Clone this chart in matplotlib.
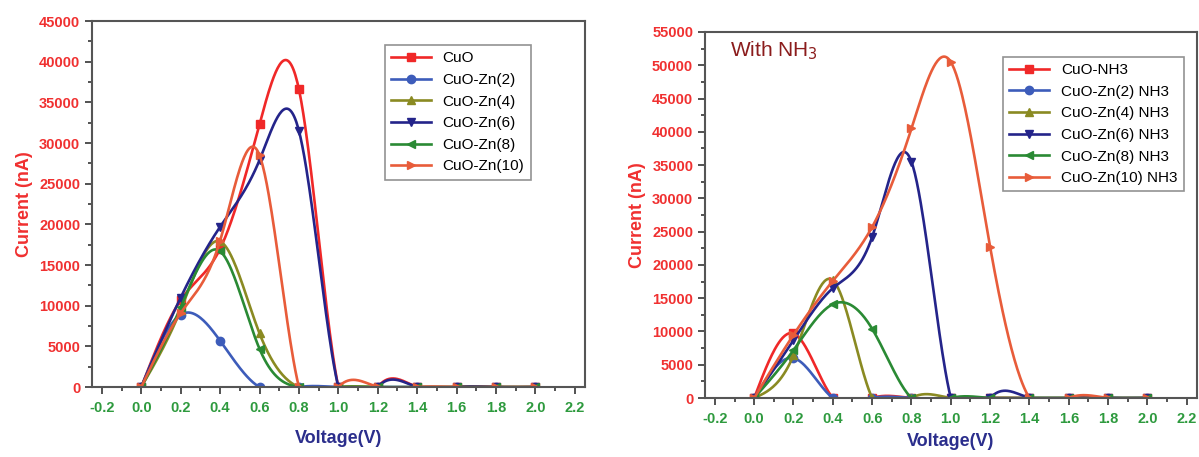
import numpy as np
import matplotlib
matplotlib.use("Agg")
import matplotlib.pyplot as plt
from matplotlib.ticker import MultipleLocator

plt.rcParams['font.family'] = ['Liberation Sans', 'DejaVu Sans']

voltage = [0.0, 0.2, 0.4, 0.6, 0.8, 1.0, 1.2, 1.4, 1.6, 1.8, 2.0]

# without NH3 (nA)
cuo = [0, 10700, 17000, 32300, 36600, 0, 0, 0, 0, 0, 0]
cuo_zn2 = [0, 8900, 5700, 0, 0, 0, 0, 0, 0, 0, 0]
cuo_zn4 = [0, 9500, 17900, 6600, 0, 0, 0, 0, 0, 0, 0]
cuo_zn6 = [0, 11000, 19700, 27900, 31500, 0, 0, 0, 0, 0, 0]
cuo_zn8 = [0, 9800, 16700, 4700, 0, 0, 0, 0, 0, 0, 0]
cuo_zn10 = [0, 9100, 18000, 28500, 0, 0, 0, 0, 0, 0, 0]

# with NH3 (nA)
cuo_nh3 = [0, 9700, 0, 0, 0, 0, 0, 0, 0, 0, 0]
cuo_zn2_nh3 = [0, 6000, 0, 0, 0, 0, 0, 0, 0, 0, 0]
cuo_zn4_nh3 = [0, 6400, 17700, 0, 0, 0, 0, 0, 0, 0, 0]
cuo_zn6_nh3 = [0, 8700, 16500, 24200, 35500, 0, 0, 0, 0, 0, 0]
cuo_zn8_nh3 = [0, 7200, 14100, 10400, 0, 0, 0, 0, 0, 0, 0]
cuo_zn10_nh3 = [0, 9500, 17600, 25700, 40500, 50500, 22700, 0, 0, 0, 0]

labels_left = ['CuO', 'CuO-Zn(2)', 'CuO-Zn(4)', 'CuO-Zn(6)', 'CuO-Zn(8)', 'CuO-Zn(10)']
labels_right = ['CuO-NH3', 'CuO-Zn(2) NH3', 'CuO-Zn(4) NH3', 'CuO-Zn(6) NH3',
                'CuO-Zn(8) NH3', 'CuO-Zn(10) NH3']

colors = ['#f02828', '#3d5cba', '#8a8a22', '#24248a', '#2a8a34', '#e85c3a']
markers = ['s', 'o', '^', 'v', '<', '>']


def spline(x, y, n=400):
    # natural cubic spline, like Origin's spline connector
    x = np.asarray(x, float)
    y = np.asarray(y, float)
    k = len(x)
    h = np.diff(x)
    A = np.zeros((k, k))
    b = np.zeros(k)
    A[0, 0] = 1
    A[-1, -1] = 1
    for i in range(1, k - 1):
        A[i, i - 1] = h[i - 1]
        A[i, i] = 2 * (h[i - 1] + h[i])
        A[i, i + 1] = h[i]
        b[i] = 6 * ((y[i + 1] - y[i]) / h[i] - (y[i] - y[i - 1]) / h[i - 1])
    M = np.linalg.solve(A, b)
    xs = np.linspace(x[0], x[-1], n)
    idx = np.clip(np.searchsorted(x, xs) - 1, 0, k - 2)
    x0, x1 = x[idx], x[idx + 1]
    hh = x1 - x0
    ys = (M[idx] * (x1 - xs) ** 3 / (6 * hh) + M[idx + 1] * (xs - x0) ** 3 / (6 * hh)
          + (y[idx] / hh - M[idx] * hh / 6) * (x1 - xs)
          + (y[idx + 1] / hh - M[idx + 1] * hh / 6) * (xs - x0))
    return xs, ys


def draw(ax, series, labels, ymax, xpad):
    for ys, lab, c, m in zip(series, labels, colors, markers):
        sx, sy = spline(voltage, ys)
        ax.plot(sx, sy, color=c, lw=1.9)
        ax.plot(voltage, ys, ls='none', marker=m, ms=6, color=c)
        ax.plot([], [], color=c, lw=1.9, marker=m, ms=6, label=lab)
    ax.set_xlim(-0.25, 2.25)
    ax.set_ylim(0, ymax)
    ax.xaxis.set_major_locator(MultipleLocator(0.2))
    ax.xaxis.set_minor_locator(MultipleLocator(0.1))
    ax.yaxis.set_major_locator(MultipleLocator(5000))
    ax.yaxis.set_minor_locator(MultipleLocator(2500))
    ax.tick_params(which='both', direction='out', color='#444444', width=1.3)
    ax.tick_params(which='major', length=5)
    ax.tick_params(which='minor', length=3)
    ax.tick_params(axis='x', labelcolor='#2e9a3e', labelsize=10.5, pad=5)
    ax.tick_params(axis='y', labelcolor='#f03030', labelsize=10.5)
    ax.set_xticks(np.round(np.arange(-0.2, 2.21, 0.2), 1))
    ax.set_xticklabels(['%.1f' % v for v in np.arange(-0.2, 2.21, 0.2)],
                       fontweight='bold')
    for t in ax.get_yticklabels():
        t.set_fontweight('bold')
    for s in ax.spines.values():
        s.set_color('#555555')
        s.set_linewidth(1.5)
    ax.set_xlabel('Voltage(V)', color='#2b2e8c', fontsize=13, fontweight='bold',
                  labelpad=xpad)
    ax.set_ylabel('Current (nA)', color='#f03030', fontsize=13, fontweight='bold')


fig = plt.figure(figsize=(11.99, 4.57), dpi=100)
ax1 = fig.add_axes([0.0767, 0.153, 0.411, 0.801])
ax2 = fig.add_axes([0.588, 0.129, 0.410, 0.801])

draw(ax1, [cuo, cuo_zn2, cuo_zn4, cuo_zn6, cuo_zn8, cuo_zn10], labels_left, 45000, 11)
draw(ax2, [cuo_nh3, cuo_zn2_nh3, cuo_zn4_nh3, cuo_zn6_nh3, cuo_zn8_nh3, cuo_zn10_nh3],
     labels_right, 55000, 5)

for ax, x0, y0 in [(ax1, 0.594, 0.934), (ax2, 0.606, 0.932)]:
    leg = ax.legend(loc='upper left', bbox_to_anchor=(x0, y0), fontsize=11,
                    fancybox=False, edgecolor='#777777', handlelength=2.6,
                    borderaxespad=0, labelspacing=0.5)
    leg.get_frame().set_linewidth(1.2)

ax2.text(0.051, 0.95, 'With NH$_3$', transform=ax2.transAxes, fontsize=15,
         color='#8b1c1c', va='center', ha='left')

fig.savefig('out.png', dpi=100)
